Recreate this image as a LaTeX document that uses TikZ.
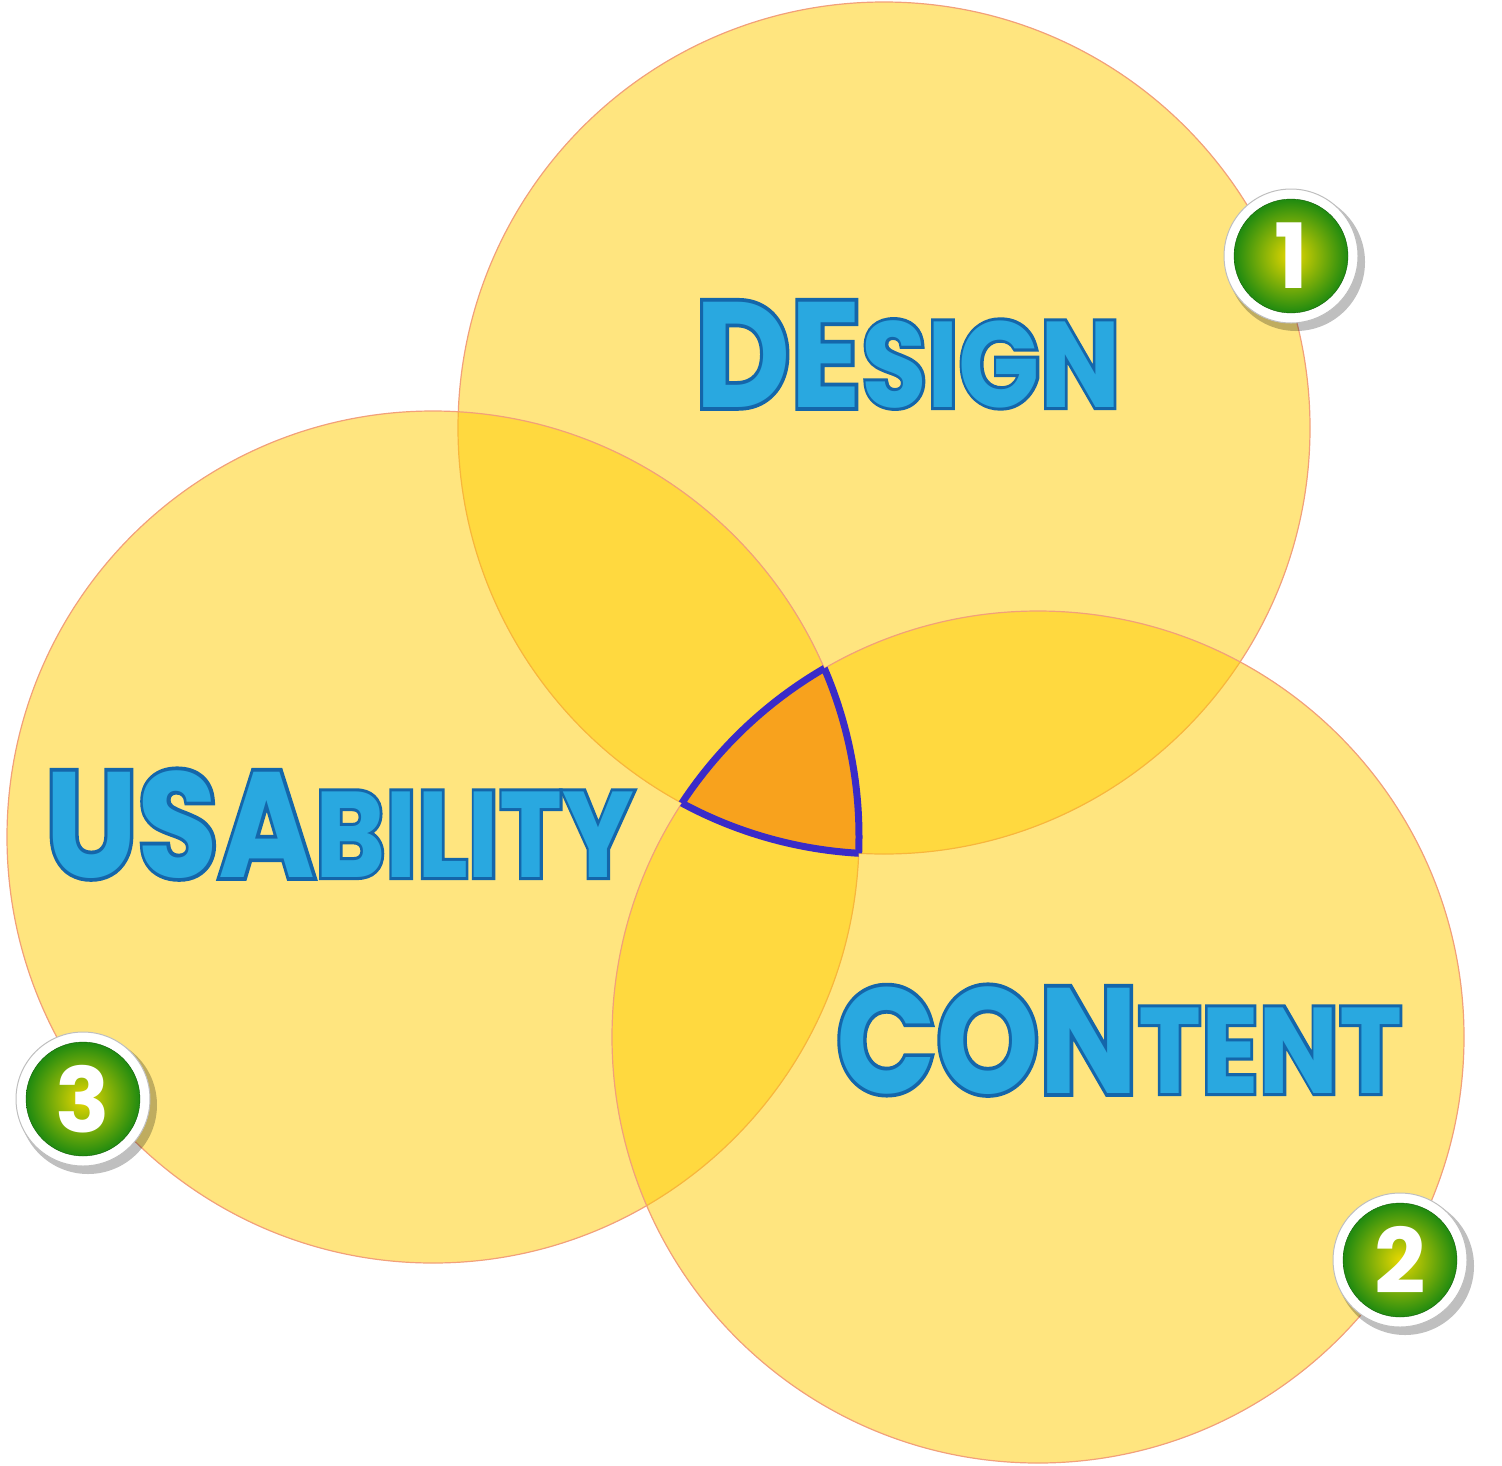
\documentclass[tikz,border=0pt]{standalone}
\usepackage{fontspec}
\usepackage{graphicx}
\setmainfont{Poppins}[UprightFont=* Bold]
\newfontfamily\outl{Poppins}[UprightFont=* Bold,FakeBold=5]
\usetikzlibrary{shadings,calc}
\definecolor{cy}{HTML}{FFCC00}
\definecolor{cedge}{HTML}{F2A07A}
\definecolor{corange}{HTML}{F8A21D}
\definecolor{cblue}{HTML}{3A2BC8}
\definecolor{tfill}{HTML}{29A8E0}
\definecolor{tline}{HTML}{1466AA}
\definecolor{gdark}{HTML}{1F8A10}
\definecolor{glight}{HTML}{E8D800}
\tikzset{x=1pt,y=-1pt,
 venn/.style={fill=cy,fill opacity=0.5,draw=cedge,draw opacity=1,line width=1.2pt},
 wordo/.style={anchor=base west,inner sep=0pt,text=tline,font=\outl},
 wordf/.style={anchor=base west,inner sep=0pt,text=tfill}}
\newcommand{\BW}[2]{\scalebox{0.875}[1]{{\fontsize{150}{150}\selectfont #1}{\fontsize{122}{122}\selectfont #2}}}
\newcommand{\badge}[3]{%
 \fill[black,opacity=0.25] ($(#1)+(5,6)$) circle (69);
 \fill[white,draw=black!25,line width=1pt] (#1) circle (67);
 \shade[inner color=glight,outer color=gdark,draw=gdark!70!black] (#1) circle (57);
 \node[text=white,font=\fontsize{90}{90}\selectfont] (#2) at (#1) {#3};}
\begin{document}
\begin{tikzpicture}
\useasboundingbox (0,0) rectangle (1502,1465);
\coordinate (cd) at (884,428);
\coordinate (cu) at (433,837);
\coordinate (cc) at (1038,1037);
\draw[venn] (cd) circle (426);
\draw[venn] (cu) circle (426);
\draw[venn] (cc) circle (426);
\begin{scope}
 \clip (cd) circle (426); \clip (cu) circle (426);
 \fill[corange] (cc) circle (426);
\end{scope}
\begin{scope}
 \clip (cu) circle (426); \clip (cc) circle (426);
 \draw[cblue,line width=7pt] (cd) circle (426);
\end{scope}
\begin{scope}
 \clip (cd) circle (426); \clip (cc) circle (426);
 \draw[cblue,line width=7pt] (cu) circle (426);
\end{scope}
\begin{scope}
 \clip (cd) circle (426); \clip (cu) circle (426);
 \draw[cblue,line width=7pt] (cc) circle (426);
\end{scope}
\node[wordo] (d1) at (695,407) {\BW{DE}{SIGN}};
\node[wordf] (d2) at (695,407) {\BW{DE}{SIGN}};
\node[wordo] (u1) at (45,877) {\BW{USA}{BILITY}};
\node[wordf] (u2) at (45,877) {\BW{USA}{BILITY}};
\node[wordo] (c1) at (836,1093) {\BW{CON}{TENT}};
\node[wordf] (c2) at (836,1093) {\BW{CON}{TENT}};
\coordinate (b1) at (1291,256);
\coordinate (b2) at (1400,1260);
\coordinate (b3) at (83,1099);
\badge{b1}{n1}{1}
\badge{b2}{n2}{2}
\badge{b3}{n3}{3}
\end{tikzpicture}
\end{document}
